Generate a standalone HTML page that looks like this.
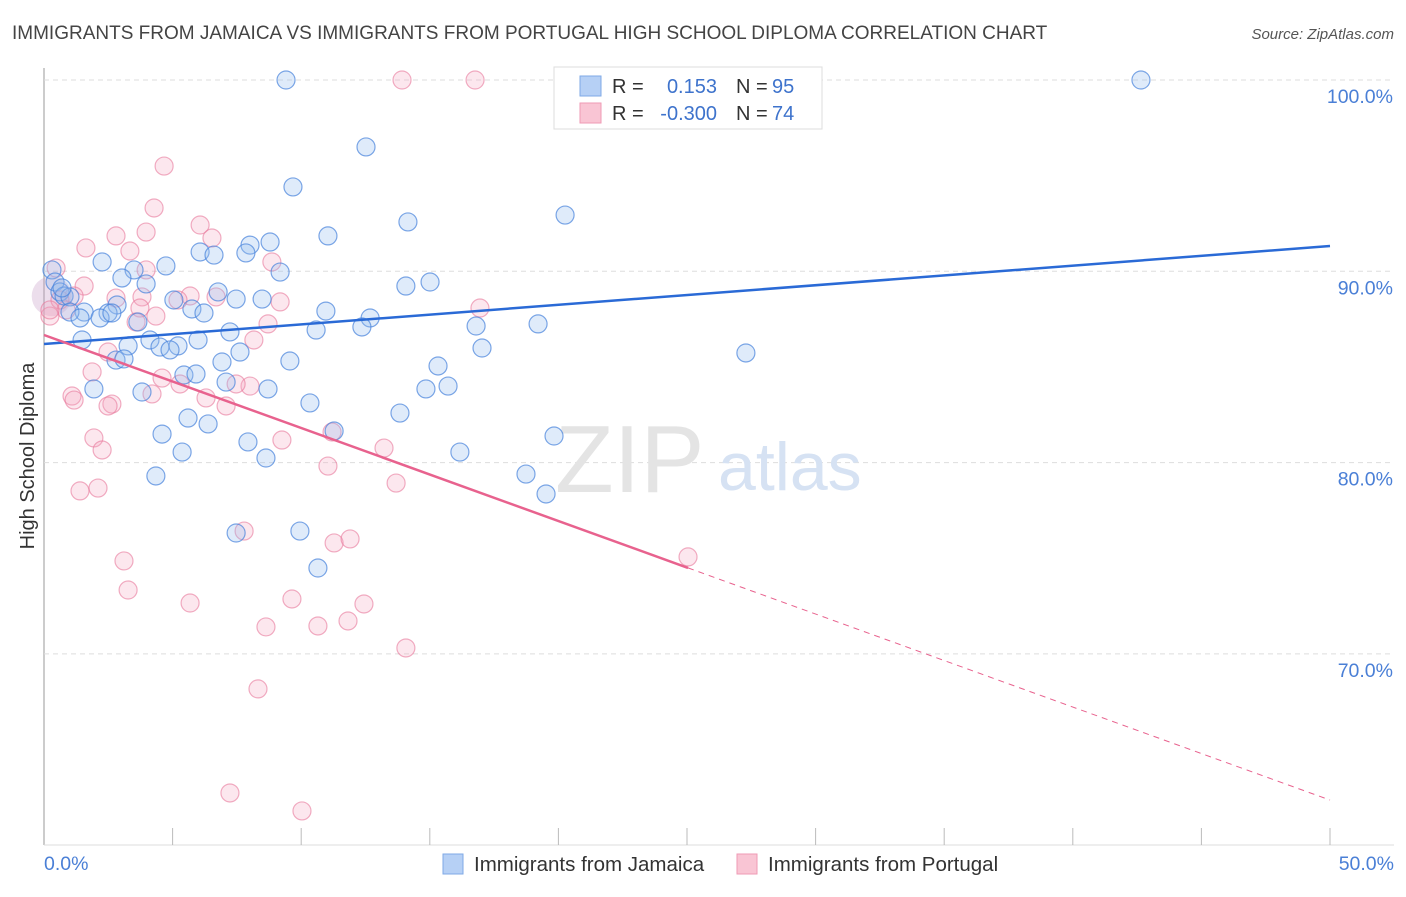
<!DOCTYPE html>
<html><head><meta charset="utf-8"><style>
body{margin:0;background:#fff;font-family:"Liberation Sans",sans-serif}
svg text{font-family:"Liberation Sans",sans-serif}
</style></head><body>
<svg id="chart" width="1406" height="892">
<text x="12" y="39" font-size="19" fill="#444">IMMIGRANTS FROM JAMAICA VS IMMIGRANTS FROM PORTUGAL HIGH SCHOOL DIPLOMA CORRELATION CHART</text>
<text x="1394" y="39" font-size="15" fill="#555" text-anchor="end" font-style="italic">Source: ZipAtlas.com</text>
<text x="34" y="456" font-size="20" fill="#333" text-anchor="middle" transform="rotate(-90 34 456)">High School Diploma</text>
<g id="grid"></g>
<text x="555" y="492" font-size="96" fill="#e4e4e4" font-family="Liberation Serif">ZIP</text>
<text x="718" y="490" font-size="68" fill="#d6e2f3">atlas</text>
<g id="pts"></g>
<g id="lines"></g>
<g>
<rect x="554" y="67" width="268" height="62" fill="#fff" stroke="#ddd"/>
<rect x="580" y="76" width="21" height="20" fill="#b6d0f5" stroke="#7fa9e6"/>
<rect x="580" y="103" width="21" height="20" fill="#f9c5d4" stroke="#ef9ab4"/>
<text x="612" y="93" font-size="20" fill="#333">R =</text><text x="717" y="93" font-size="20" fill="#3e73cc" text-anchor="end">0.153</text>
<text x="736" y="93" font-size="20" fill="#333">N =</text><text x="772" y="93" font-size="20" fill="#3e73cc">95</text>
<text x="612" y="120" font-size="20" fill="#333">R =</text><text x="717" y="120" font-size="20" fill="#3e73cc" text-anchor="end">-0.300</text>
<text x="736" y="120" font-size="20" fill="#333">N =</text><text x="772" y="120" font-size="20" fill="#3e73cc">74</text>
</g>
<g>
<rect x="443" y="854" width="20" height="20" fill="#b6d0f5" stroke="#7fa9e6"/>
<text x="474" y="871" font-size="20.5" fill="#333">Immigrants from Jamaica</text>
<rect x="737" y="854" width="20" height="20" fill="#f9c5d4" stroke="#ef9ab4"/>
<text x="768" y="871" font-size="20.5" fill="#333">Immigrants from Portugal</text>
</g>
</svg>
<script>
const yTicks=[100,90,80,70];
const xTickCount=10;
const blueX=[9.41,42.65,12.52,9.68,20.26,14.15,11.04,8.01,8.79,6.07,6.61,7.85,2.26,4.74,3.50,9.18,3.03,15.01,14.07,0.31,0.43,0.62,0.78,1.01,0.70,3.97,6.77,5.05,7.47,8.48,2.84,5.75,6.22,10.96,1.56,2.49,1.01,1.40,2.18,2.64,3.65,12.68,16.80,19.21,10.58,12.36,7.23,1.48,3.27,4.12,5.21,4.51,4.90,5.99,7.62,17.03,27.29,2.80,3.11,6.92,9.56,15.32,5.44,5.91,7.08,8.71,1.94,3.81,14.85,15.71,10.34,13.84,5.60,6.38,4.59,11.28,19.83,7.93,16.17,5.37,8.63,18.74,4.35,19.52,7.47,9.95,10.65];
const blueY=[100,100,96.50,94.41,92.94,92.58,91.85,91.37,91.53,91.01,90.85,90.96,90.49,90.28,90.07,89.96,89.65,89.44,89.23,90.07,89.44,88.92,88.71,88.66,89.13,89.34,88.92,88.50,88.55,88.55,88.24,88.03,87.82,87.92,87.87,87.82,87.87,87.56,87.56,87.82,87.35,87.56,87.14,87.25,86.93,87.09,86.83,86.41,86.10,86.41,86.10,86.04,85.89,86.41,85.78,85.99,85.73,85.36,85.42,85.26,85.31,85.05,84.58,84.63,84.21,83.85,83.85,83.69,83.85,84.00,83.12,82.59,82.33,82.02,81.49,81.65,81.39,81.08,80.55,80.55,80.24,79.40,79.30,78.36,76.32,76.42,74.49];
const pinkX=[13.92,16.76,4.67,4.28,6.07,2.80,3.97,6.53,1.63,3.34,8.86,0.47,3.97,1.56,1.17,0.62,0.86,0.23,2.80,3.81,5.68,6.69,3.73,5.21,9.18,16.95,4.35,3.58,8.71,8.16,2.49,1.87,4.59,5.29,8.01,7.47,1.09,1.17,4.20,6.30,2.64,2.49,7.08,1.94,9.25,2.26,11.20,13.22,11.04,13.69,1.40,2.10,3.11,7.78,11.28,11.90,3.27,25.04,5.68,9.64,12.44,8.63,10.65,11.82,14.07,8.32,7.23,10.03,0.23];
const pinkY=[100,100,95.50,93.31,92.42,91.85,92.05,91.74,91.22,91.06,90.49,90.17,90.07,89.23,88.71,88.50,87.98,87.66,88.60,88.66,88.71,88.66,88.08,88.50,88.40,88.08,87.66,87.35,87.25,86.41,85.78,84.74,84.42,84.11,84.00,84.11,83.48,83.27,83.59,83.38,83.06,82.96,82.96,81.29,81.18,80.66,81.60,80.76,79.82,78.93,78.52,78.67,74.86,76.42,75.80,76.01,73.34,75.07,72.66,72.87,72.61,71.41,71.46,71.72,70.31,68.17,62.73,61.79,87.98];
const blueTrend=[86.2,91.32];
const pinkTrend=[86.67,62.36];
const pinkSolidEnd=25.04;
const X0=44,X1=1330,XMAX=50,Y100=80,PX10=191.3;
const sx=v=>X0+(v/XMAX)*(X1-X0);
const sy=v=>Y100+(100-v)/10*PX10;
const NS='http://www.w3.org/2000/svg';
function mk(tag,attrs,parent){const e=document.createElementNS(NS,tag);for(const k in attrs)e.setAttribute(k,attrs[k]);parent.appendChild(e);return e;}
const grid=document.getElementById('grid');
mk('line',{x1:X0,y1:68,x2:X0,y2:845,stroke:'#aaa','stroke-width':1.2},grid);
mk('line',{x1:X0,y1:845,x2:1394,y2:845,stroke:'#ddd','stroke-width':1},grid);
yTicks.forEach(t=>{
 const l=mk('line',{x1:X0,y1:sy(t),x2:1394,y2:sy(t),stroke:'#ddd','stroke-dasharray':'5,4'},grid);
 
 
 const tx=mk('text',{x:1393,y:sy(t)+23,'font-size':19.5,fill:'#4a7fd6','text-anchor':'end'},grid);
 tx.textContent=t.toFixed(1)+'%';
 
 
});
for(let i=1;i<=xTickCount;i++){
 const x=sx(i*XMAX/xTickCount);
 const l=mk('line',{x1:x,y1:828,x2:x,y2:845,stroke:'#bbb'},grid);
 
 
}
const xl=mk('text',{x:44,y:870,'font-size':19.5,fill:'#4a7fd6'},grid);xl.textContent='0.0%';


const xr=mk('text',{x:1394,y:870,'font-size':19.5,fill:'#4a7fd6','text-anchor':'end'},grid);xr.textContent='50.0%';


const pts=document.getElementById('pts');
const big=mk('circle',{cx:sx(0.3),cy:sy(88.7),r:20,fill:'rgba(200,160,200,0.35)'},pts);


pinkX.forEach((x,i)=>{
 const c=mk('circle',{cx:sx(x),cy:sy(pinkY[i]),r:9,fill:'rgba(246,170,195,0.28)',stroke:'rgba(232,120,155,0.6)','stroke-width':1.2},pts);
 
 
});
blueX.forEach((x,i)=>{
 const c=mk('circle',{cx:sx(x),cy:sy(blueY[i]),r:9,fill:'rgba(150,190,240,0.3)',stroke:'rgba(70,130,220,0.7)','stroke-width':1.2},pts);
 
 
});
const lines=document.getElementById('lines');
const bl=mk('line',{x1:sx(0),y1:sy(blueTrend[0]),x2:sx(50),y2:sy(blueTrend[1]),stroke:'#2a6ad6','stroke-width':2.5},lines);


const pAt=x=>pinkTrend[0]+(pinkTrend[1]-pinkTrend[0])*x/50;
const pl=mk('line',{x1:sx(0),y1:sy(pAt(0)),x2:sx(pinkSolidEnd),y2:sy(pAt(pinkSolidEnd)),stroke:'#e8628e','stroke-width':2.5},lines);


const pd=mk('line',{x1:sx(pinkSolidEnd),y1:sy(pAt(pinkSolidEnd)),x2:sx(50),y2:sy(pAt(50)),stroke:'#e8628e','stroke-width':1,'stroke-dasharray':'6,5'},lines);


</script>
</body></html>
